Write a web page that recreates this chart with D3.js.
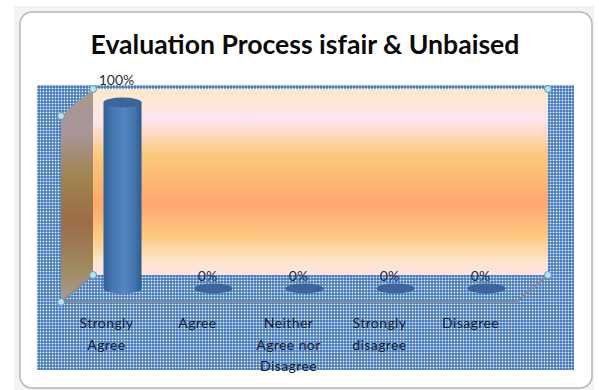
<!DOCTYPE html>
<html>
<head>
<meta charset="utf-8">
<script src="https://cdn.jsdelivr.net/npm/d3@7"></script>
<style>
html, body { margin: 0; padding: 0; background: #fff; }
text { font-family: Lato, "Open Sans", sans-serif; }
</style>
</head>
<body>
<div id="res"></div>
<script>
const chartTitle = "Evaluation Process isfair & Unbaised";
const categories = ["Strongly Agree", "Agree", "Neither Agree nor Disagree", "Strongly disagree", "Disagree"];
const categoryLines = [["Strongly", "Agree"], ["Agree"], ["Neither", "Agree nor", "Disagree"], ["Strongly", "disagree"], ["Disagree"]];
const values = [100, 0, 0, 0, 0];
const wallStops = [
    [0, "#fde9c9"], [0.17, "#fde5ef"], [0.36, "#fcc878"],
    [0.62, "#fda76f"], [0.8, "#fdcb84"], [0.93, "#fee6ce"], [1, "#fee3e3"]
];

const svg = d3.select("#res").append("svg")
    .attr("width", 599)
    .attr("height", 390)
    .style("display", "block");

const defs = svg.append("defs");

// dotted fill of the selected plot area
const pat = defs.append("pattern").attr("id", "dots")
    .attr("width", 3).attr("height", 3)
    .attr("patternUnits", "userSpaceOnUse");
pat.append("rect").attr("width", 3).attr("height", 3).attr("fill", "#4b7fc2");
pat.append("rect").attr("x", 1).attr("width", 1).attr("height", 3).attr("fill", "#7ca3d6");
pat.append("rect").attr("y", 1).attr("width", 3).attr("height", 1).attr("fill", "#7ca3d6");
pat.append("rect").attr("x", 1).attr("y", 1).attr("width", 1).attr("height", 1).attr("fill", "#f2f6fb");

const wallGrad = defs.append("linearGradient").attr("id", "wall")
    .attr("x1", 0).attr("x2", 0).attr("y1", 0).attr("y2", 1);
wallStops.forEach(s => wallGrad.append("stop").attr("offset", s[0]).attr("stop-color", s[1]));

const sideGrad = defs.append("linearGradient").attr("id", "side")
    .attr("x1", 0).attr("x2", 0).attr("y1", 0).attr("y2", 1);
[[0, "#a8998c"], [0.2, "#a8969a"], [0.42, "#a0844f"], [0.62, "#9c6c48"], [0.85, "#a08a60"], [1, "#ab9c94"]]
    .forEach(s => sideGrad.append("stop").attr("offset", s[0]).attr("stop-color", s[1]));

const barGrad = defs.append("linearGradient").attr("id", "bar");
[[0, "#2f5f92"], [0.25, "#4677b3"], [0.55, "#5285c4"], [0.82, "#4475ad"], [1, "#2c5a8b"]]
    .forEach(s => barGrad.append("stop").attr("offset", s[0]).attr("stop-color", s[1]));

// worksheet behind the chart
svg.append("rect").attr("x", 14).attr("y", 6).attr("width", 580).attr("height", 384).attr("fill", "#f3f3f3");
svg.append("rect").attr("x", 20).attr("y", 12).attr("width", 572).attr("height", 376).attr("rx", 12)
    .attr("fill", "#fff").attr("stroke", "#b5b5b5").attr("stroke-width", 1.5);

svg.append("text").attr("x", 305).attr("y", 54)
    .attr("text-anchor", "middle")
    .attr("font-size", 26.6).attr("font-weight", 700).attr("fill", "#0a0a0a")
    .text(chartTitle);

svg.append("rect").attr("x", 37).attr("y", 85).attr("width", 537).attr("height", 285).attr("fill", "url(#dots)");

// front edge of the floor, the walls sit back by this depth
const dx = 32, dy = -27;
const x = d3.scaleBand().domain(categories).range([61, 516]);
const y = d3.scaleLinear().domain([0, 100]).range([302, 116]);

svg.append("rect").attr("x", x.range()[0] + dx).attr("y", y(100) + dy)
    .attr("width", x.range()[1] - x.range()[0]).attr("height", y(0) - y(100))
    .attr("fill", "url(#wall)");

const sidePts = [[x.range()[0], y(100)], [x.range()[0] + dx, y(100) + dy], [x.range()[0] + dx, y(0) + dy], [x.range()[0], y(0)]];
svg.append("polygon").attr("points", sidePts.join(" ")).attr("fill", "url(#side)");

const floorLine = [[x.range()[0] + dx, y(0) + dy], [x.range()[0], y(0)], [x.range()[1], y(0)], [x.range()[1] + dx, y(0) + dy]];
svg.append("polyline").attr("points", floorLine.join(" "))
    .attr("fill", "none").attr("stroke", "#868c95").attr("stroke-width", 2);

// cylinders stand half way into the depth
const cx = d => x(d) + x.bandwidth() / 2 + dx / 2;
const cy = v => y(v) + dy / 2;
const rx = 19, ry = 5;
const rows = categories.map((c, i) => ({ c: c, v: values[i], lines: categoryLines[i] }));

const bars = svg.selectAll(".bar").data(rows).enter().append("g").attr("class", "bar");
bars.filter(d => d.v > 0).append("path")
    .attr("d", d => `M${cx(d.c) - rx},${cy(d.v)} V${cy(0)} A${rx},${ry} 0 0 0 ${cx(d.c) + rx},${cy(0)} V${cy(d.v)} Z`)
    .attr("fill", "url(#bar)");
bars.append("ellipse")
    .attr("cx", d => cx(d.c)).attr("cy", d => cy(d.v))
    .attr("rx", rx).attr("ry", ry)
    .attr("fill", "#3a6699");

// selection handles at the wall corners
const handles = [sidePts[0], sidePts[1], sidePts[2], sidePts[3],
    [x.range()[1] + dx, y(100) + dy], [x.range()[1] + dx, y(0) + dy]];
svg.selectAll(".handle").data(handles).enter().append("circle").attr("class", "handle")
    .attr("cx", d => d[0]).attr("cy", d => d[1]).attr("r", 3.5)
    .attr("fill", "#b5e3ea").attr("stroke", "#5f9db5").attr("stroke-width", 1);

svg.selectAll(".val").data(rows).enter().append("text").attr("class", "val")
    .attr("x", d => cx(d.c) - 6)
    .attr("y", d => d.v > 0 ? cy(d.v) - 18 : cy(0) - 8)
    .attr("text-anchor", "middle")
    .attr("font-size", 14).attr("fill", "#1f2d3d")
    .text(d => d.v + "%");

svg.selectAll(".cat").data(rows).enter().append("text").attr("class", "cat")
    .attr("font-size", 14).attr("letter-spacing", 0.4).attr("fill", "#15202c")
    .attr("text-anchor", "middle")
    .each(function (d) {
        d3.select(this).selectAll("tspan").data(d.lines).enter().append("tspan")
            .attr("x", x(d.c) + x.bandwidth() / 2)
            .attr("y", (l, i) => 328 + i * 21.5)
            .text(l => l);
    });
</script>
</body>
</html>
